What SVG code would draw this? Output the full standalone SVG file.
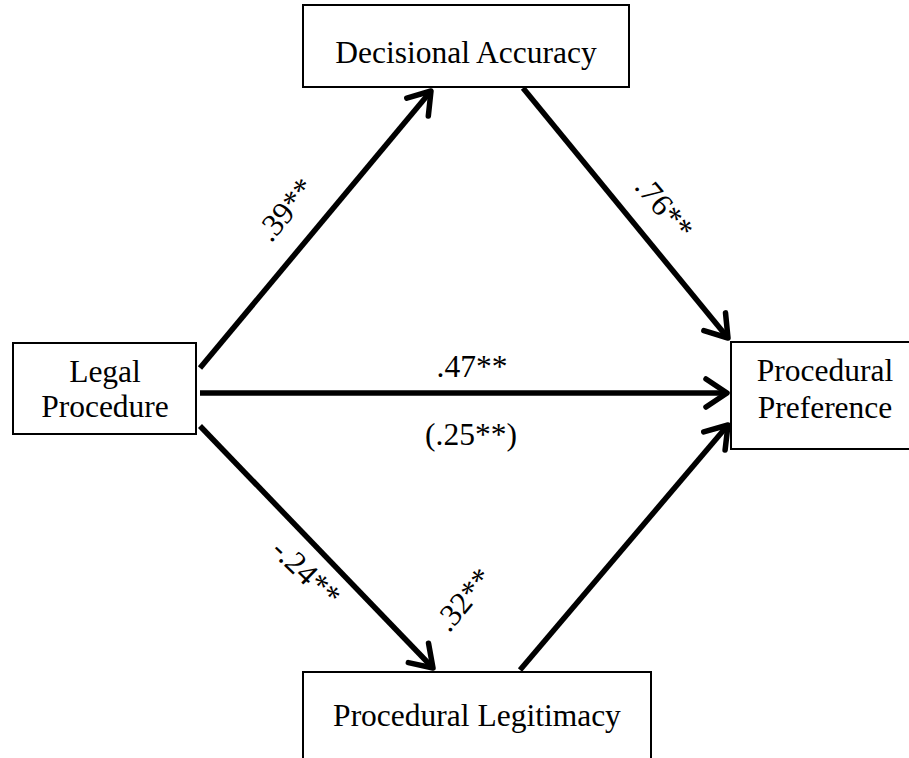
<svg xmlns="http://www.w3.org/2000/svg" width="909" height="758" viewBox="0 0 909 758">
<style>
.box{fill:#fff;stroke:#000;stroke-width:2}
.t{font-family:"Liberation Serif","Times New Roman",serif;font-size:31.5px;fill:#000;text-anchor:middle}
.c{fill:none;stroke:#000;stroke-width:5.5;marker-end:url(#ah)}
</style>
<defs>
<marker id="ah" markerUnits="userSpaceOnUse" markerWidth="40" markerHeight="40" viewBox="-30 -20 40 40" refX="0" refY="0" orient="auto">
<path d="M-21,-14 L0,0 L-21,14" fill="none" stroke="#000" stroke-width="5.5" stroke-linecap="round" stroke-linejoin="round"/>
</marker>
</defs>
<rect width="909" height="758" fill="#fff"/>
<g id="connectors">
<path class="c" d="M200,368 L431,91"/>
<path class="c" d="M523,88 L728,338"/>
<path class="c" d="M200,393 L727,393"/>
<path class="c" d="M200,426 L433,668"/>
<path class="c" d="M520,670 L728,425"/>
</g>
<g id="labels">
<text class="t" transform="translate(286,210) rotate(-50)" y="10">.39**</text>
<text class="t" transform="translate(664,208) rotate(50)" y="10">.76**</text>
<text class="t" x="472" y="377">.47**</text>
<text class="t" x="471" y="445">(.25**)</text>
<text class="t" transform="translate(306,573) rotate(44)" y="10">-.24**</text>
<text class="t" transform="translate(464,600) rotate(-50)" y="10">.32**</text>
</g>
<g id="decisional-accuracy">
<rect class="box" x="303" y="5" width="326" height="82"/>
<text class="t" x="466" y="63">Decisional Accuracy</text>
</g>
<g id="legal-procedure">
<rect class="box" x="13" y="343" width="183" height="91"/>
<text class="t" x="105" y="382">Legal</text>
<text class="t" x="105" y="417">Procedure</text>
</g>
<g id="procedural-preference">
<rect class="box" x="731" y="342" width="190" height="107"/>
<text class="t" x="825" y="381">Procedural</text>
<text class="t" x="825" y="418">Preference</text>
</g>
<g id="procedural-legitimacy">
<rect class="box" x="303" y="672" width="348" height="100"/>
<text class="t" x="477" y="726">Procedural Legitimacy</text>
</g>
</svg>
